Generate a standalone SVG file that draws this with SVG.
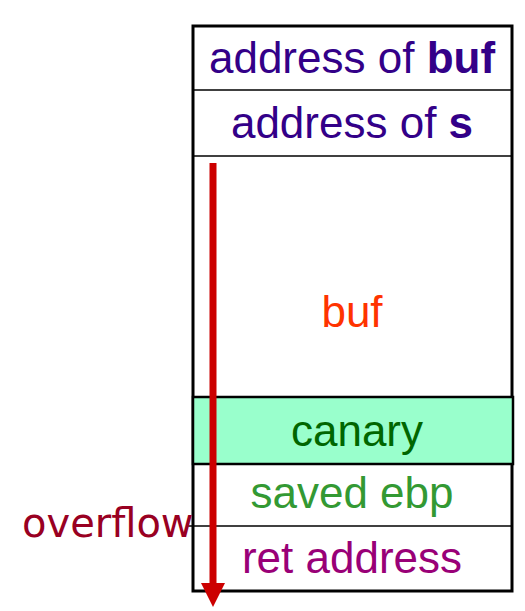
<svg xmlns="http://www.w3.org/2000/svg" width="525" height="611" viewBox="0 0 525 611">
<style>
.t{font-family:"Liberation Sans",Arial,sans-serif;font-size:44px;text-anchor:middle}
.sep{stroke:#000;stroke-width:1.5}
</style>
<defs>
<marker id="ah" markerWidth="24" markerHeight="24" refX="2" refY="12" orient="auto" markerUnits="userSpaceOnUse" viewBox="0 0 24 24">
<path d="M0,0 L24,12 L0,24 Z" fill="#CC0000"/>
</marker>
</defs>
<rect width="525" height="611" fill="#fff"/>
<g id="frame">
<rect x="193" y="26" width="319" height="565" fill="#fff" stroke="#000" stroke-width="3"/>
</g>
<g id="addr-buf">
<line class="sep" x1="193" y1="90" x2="512" y2="90"/>
<text class="t" x="352" y="73" fill="#330088">address of <tspan font-weight="bold">buf</tspan></text>
</g>
<g id="addr-s">
<line class="sep" x1="193" y1="156" x2="512" y2="156"/>
<text class="t" x="352" y="138" fill="#330088">address of <tspan font-weight="bold">s</tspan></text>
</g>
<g id="buf">
<text class="t" x="352" y="327" fill="#FF3300">buf</text>
</g>
<g id="canary">
<rect x="193" y="397" width="320" height="67" fill="#99FFCC" stroke="#000" stroke-width="2.5"/>
<text class="t" x="357" y="446" fill="#006600">canary</text>
</g>
<g id="saved-ebp">
<line class="sep" x1="186" y1="526" x2="512" y2="526"/>
<text class="t" x="352" y="508" fill="#339933">saved ebp</text>
</g>
<g id="ret">
<text class="t" x="352" y="573" fill="#990077">ret address</text>
</g>
<g id="connectors">
<line x1="213" y1="163" x2="213" y2="585" stroke="#CC0000" stroke-width="7" marker-end="url(#ah)"/>
</g>
<g id="overflow-label">
<text x="22" y="537" font-family="DejaVu Sans,sans-serif" font-size="40" fill="#990022">overflow</text>
</g>
</svg>
